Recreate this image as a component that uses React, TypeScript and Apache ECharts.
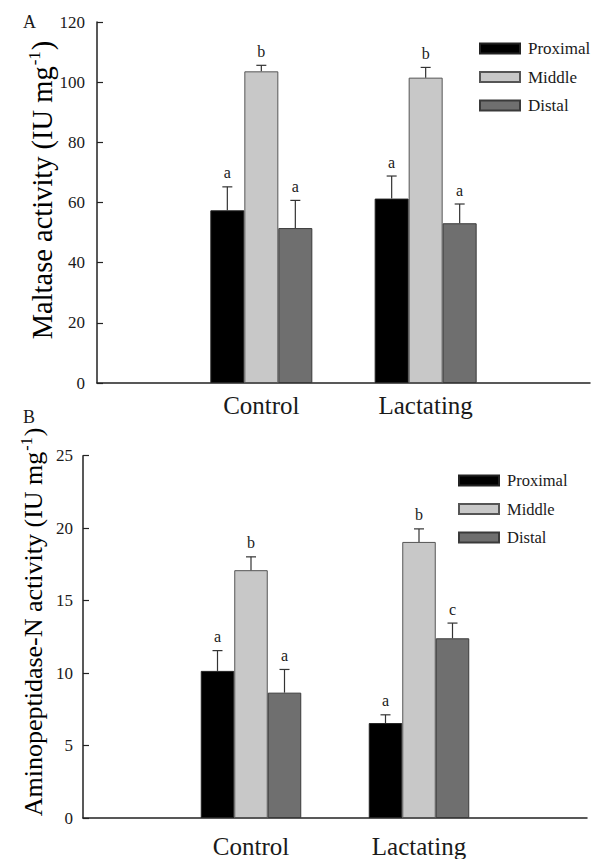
import React, { useEffect, useRef } from "react";
import * as echarts from "echarts";

const categories = ["Control", "Lactating"];
const seriesNames = ["Proximal", "Middle", "Distal"];

// Panel A: Maltase activity
const maltaseProximal = [57.4, 61.3];
const maltaseMiddle = [103.6, 101.5];
const maltaseDistal = [51.5, 53.1];
const maltaseProximalErr = [7.8, 7.5];
const maltaseMiddleErr = [2.0, 3.4];
const maltaseDistalErr = [9.2, 6.4];
const maltaseProximalLetters = ["a", "a"];
const maltaseMiddleLetters = ["b", "b"];
const maltaseDistalLetters = ["a", "a"];

// Panel B: Aminopeptidase-N activity
const apnProximal = [10.15, 6.55];
const apnMiddle = [17.1, 19.05];
const apnDistal = [8.65, 12.4];
const apnProximalErr = [1.4, 0.57];
const apnMiddleErr = [0.92, 0.9];
const apnDistalErr = [1.6, 1.05];
const apnProximalLetters = ["a", "a"];
const apnMiddleLetters = ["b", "b"];
const apnDistalLetters = ["a", "c"];

const maltaseTicks = [0, 20, 40, 60, 80, 100, 120];
const apnTicks = [0, 5, 10, 15, 20, 25];

const FONT = "'Liberation Serif', 'Times New Roman', serif";
const TXT = "#1a1a1a";
const fills = ["#000000", "#c8c8c8", "#6f6f6f"];
const borders = ["#222222", "#555555", "#3a3a3a"];

function buildPanel(
  gi: number,
  values: number[][],
  errs: number[][],
  letters: string[][],
  barW: number
) {
  const series: any[] = [];
  values.forEach((vals, si) => {
    series.push({
      type: "bar",
      name: seriesNames[si],
      xAxisIndex: gi,
      yAxisIndex: gi,
      barWidth: barW,
      barGap: "0%",
      itemStyle: { color: fills[si], borderColor: borders[si], borderWidth: 1 },
      data: vals.map((v, i) => [i + 1, v]),
      z: 2,
    });
  });
  values.forEach((vals, si) => {
    const off = (si - 1) * barW;
    series.push({
      type: "custom",
      xAxisIndex: gi,
      yAxisIndex: gi,
      z: 3,
      data: vals.map((v, i) => [i + 1, v, errs[si][i]]),
      renderItem: (params: any, api: any) => {
        const x = api.value(0);
        const v = api.value(1);
        const e = api.value(2);
        const b = api.coord([x, v]);
        const t = api.coord([x, v + e]);
        const cx = b[0] + off;
        const letter = letters[si][params.dataIndex];
        return {
          type: "group",
          children: [
            {
              type: "line",
              shape: { x1: cx, y1: b[1], x2: cx, y2: t[1] },
              style: { stroke: "#333", lineWidth: 1.2 },
            },
            {
              type: "line",
              shape: { x1: cx - 5, y1: t[1], x2: cx + 5, y2: t[1] },
              style: { stroke: "#333", lineWidth: 1.2 },
            },
            {
              type: "text",
              x: cx,
              y: t[1] - 14,
              style: {
                text: letter,
                fill: TXT,
                font: `16px ${FONT}`,
                align: "center",
                verticalAlign: "middle",
              },
            },
          ],
        };
      },
    });
  });
  return series;
}

export default function App() {
  const ref = useRef<HTMLDivElement>(null);
  useEffect(() => {
    if (!ref.current) return;
    const chart = echarts.init(ref.current, null, { renderer: "svg" });

    const xAxisCommon = (labelMargin: number) => ({
      type: "value",
      min: 0,
      max: 3,
      interval: 1,
      splitLine: { show: false },
      axisTick: { show: false },
      axisLine: { show: true, onZero: false, lineStyle: { color: "#222", width: 1.5 } },
      axisLabel: {
        margin: labelMargin,
        fontFamily: FONT,
        fontSize: 25,
        color: TXT,
        showMinLabel: true,
        showMaxLabel: true,
        formatter: (v: number) => (v >= 1 && v <= categories.length ? categories[v - 1] : ""),
      },
    });

    const yAxisCommon = (ticks: number[], labelMargin: number) => ({
      type: "value",
      min: ticks[0],
      max: ticks[ticks.length - 1],
      interval: ticks[1] - ticks[0],
      splitLine: { show: false },
      axisLine: { show: true, lineStyle: { color: "#222", width: 1.5 } },
      axisTick: { show: true, inside: true, length: 6, lineStyle: { color: "#222", width: 1.2 } },
      axisLabel: { margin: labelMargin, fontFamily: FONT, fontSize: 17, color: TXT },
    });

    const legendCommon = (left: number, top: number, fs: number) => ({
      data: seriesNames,
      orient: "vertical",
      left,
      top,
      padding: 0,
      itemWidth: 40,
      itemHeight: 10,
      itemGap: 11.5,
      icon: "rect",
      selectedMode: false,
      textStyle: {
        fontFamily: FONT,
        fontSize: fs,
        color: TXT,
        lineHeight: 10,
        padding: [0, 0, 0, 3],
      },
    });

    const option: any = {
      animation: false,
      backgroundColor: "#ffffff",
      grid: [
        { left: 97, top: 22, width: 504, height: 361 },
        { left: 83, top: 455.7, width: 504, height: 362.6 },
      ],
      xAxis: [
        { ...xAxisCommon(10), gridIndex: 0 },
        { ...xAxisCommon(16), gridIndex: 1 },
      ],
      yAxis: [
        { ...yAxisCommon(maltaseTicks, 12), gridIndex: 0 },
        { ...yAxisCommon(apnTicks, 10), gridIndex: 1 },
      ],
      legend: [legendCommon(479, 40, 17), legendCommon(458, 472, 16.5)],
      graphic: [
        {
          type: "text",
          left: 23,
          top: 13,
          style: { text: "A", font: `18px ${FONT}`, fill: TXT },
        },
        {
          type: "text",
          left: 23,
          top: 408,
          style: { text: "B", font: `18px ${FONT}`, fill: TXT },
        },
        {
          type: "text",
          x: 42,
          y: 190,
          rotation: Math.PI / 2,
          style: {
            text: "{a|Maltase activity (IU mg}{s|-1}{a|)}",
            align: "center",
            verticalAlign: "middle",
            rich: {
              a: { fontFamily: FONT, fontSize: 28.5, color: TXT, lineHeight: 32 },
              s: { fontFamily: FONT, fontSize: 17, color: TXT, verticalAlign: "top", padding: [0, 1, 13, 1] },
            },
          },
        },
        {
          type: "text",
          x: 33,
          y: 622,
          rotation: Math.PI / 2,
          style: {
            text: "{a|Aminopeptidase-N activity (IU mg}{s|-1}{a|)}",
            align: "center",
            verticalAlign: "middle",
            rich: {
              a: { fontFamily: FONT, fontSize: 26, color: TXT, lineHeight: 30 },
              s: { fontFamily: FONT, fontSize: 16, color: TXT, verticalAlign: "top", padding: [0, 1, 12, 1] },
            },
          },
        },
      ],
      series: [
        ...buildPanel(
          0,
          [maltaseProximal, maltaseMiddle, maltaseDistal],
          [maltaseProximalErr, maltaseMiddleErr, maltaseDistalErr],
          [maltaseProximalLetters, maltaseMiddleLetters, maltaseDistalLetters],
          34
        ),
        ...buildPanel(
          1,
          [apnProximal, apnMiddle, apnDistal],
          [apnProximalErr, apnMiddleErr, apnDistalErr],
          [apnProximalLetters, apnMiddleLetters, apnDistalLetters],
          33.5
        ),
      ],
    };
    chart.setOption(option);
    return () => chart.dispose();
  }, []);
  return (
    <div
      ref={ref}
      style={{ position: "fixed", left: 0, top: 0, width: 593, height: 859, background: "#fff" }}
    />
  );
}
